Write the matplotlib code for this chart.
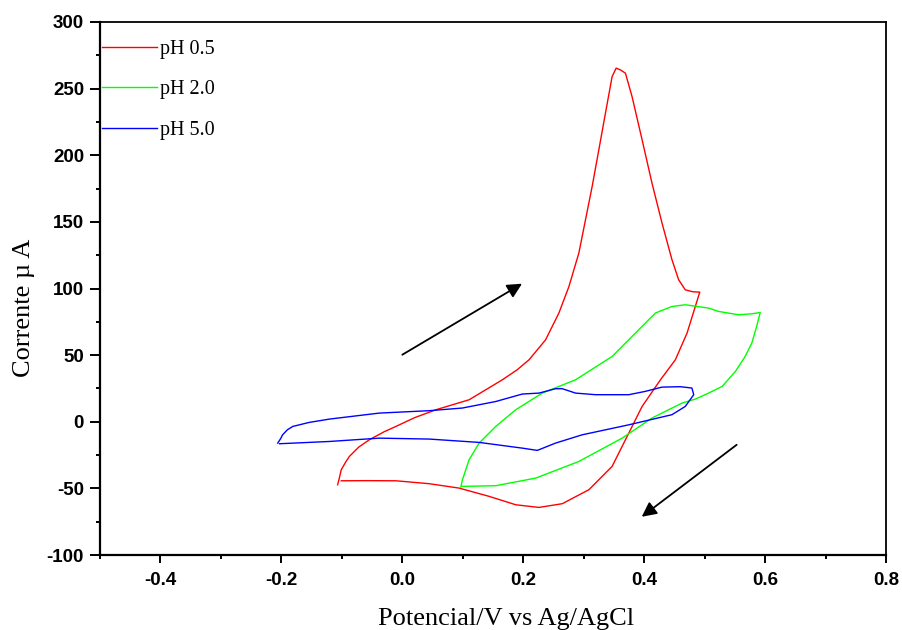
import matplotlib
matplotlib.use("Agg")
import matplotlib.pyplot as plt
from matplotlib.ticker import MultipleLocator

plt.rcParams["axes.unicode_minus"] = False

# Cyclic voltammograms at three pH values (potential in V, current in uA)
ph05_E = [-0.107, -0.104, -0.101, -0.094, -0.0875, -0.072, -0.0545, -0.030, -0.0105, 0.020,
          0.0556, 0.1105, 0.1655, 0.190, 0.2096, 0.237, 0.259, 0.2756, 0.292, 0.303,
          0.314, 0.325, 0.336, 0.347, 0.3537, 0.361, 0.369, 0.380, 0.3966, 0.413,
          0.4296, 0.446, 0.457, 0.468, 0.480, 0.490, 0.492,
          0.4846, 0.471, 0.4516, 0.427, 0.3966, 0.3746, 0.347, 0.3086, 0.2646,
          0.226, 0.1876, 0.1436, 0.094, 0.0446, -0.0105, -0.060, -0.101]
ph05_I = [-47.3, -42.0, -36.0, -30.5, -26.0, -19.0, -13.5, -7.5, -3.5, 3.0,
          9.0, 16.5, 31.5, 39.0, 46.5, 61.5, 81.6, 101.5, 126.6, 151.6,
          176.6, 204.0, 231.6, 259.0, 265.4, 264.0, 261.6, 244.0, 211.6, 179.0,
          149.0, 121.6, 106.6, 99.0, 97.6, 97.3, 97.3,
          86.5, 66.6, 46.5, 31.5, 11.5, -8.5, -33.5, -51.0, -61.5,
          -64.3, -62.3, -56.0, -49.8, -46.5, -44.3, -44.2, -44.3]

ph20_E = [0.0968, 0.0995, 0.1105, 0.127, 0.1546, 0.1876, 0.2315, 0.2866, 0.347, 0.3856,
          0.4186, 0.446, 0.468, 0.5066, 0.523, 0.556, 0.578, 0.592,
          0.586, 0.578, 0.567, 0.551, 0.529, 0.5066, 0.4846, 0.4626, 0.413, 0.3636,
          0.292, 0.2206, 0.1546, 0.0995]
ph20_I = [-49.0, -43.5, -28.5, -16.0, -3.5, 9.0, 21.5, 31.5, 49.0, 66.6,
          81.6, 86.5, 87.8, 85.3, 82.8, 80.3, 81.0, 82.0,
          71.5, 59.0, 49.0, 37.8, 26.5, 21.5, 17.0, 14.0, 2.8, -12.3,
          -29.8, -42.3, -48.0, -48.5]

ph50_E = [-0.206, -0.201, -0.198, -0.190, -0.181, -0.154, -0.1205, -0.038, 0.0446, 0.0995,
          0.1546, 0.1985, 0.226, 0.2536, 0.2646, 0.2866, 0.3196, 0.3746, 0.402, 0.4296,
          0.460, 0.479,
          0.482, 0.468, 0.446, 0.3746, 0.2975, 0.2536, 0.2233, 0.1985, 0.127, 0.0446,
          -0.038, -0.1205, -0.203]
ph50_I = [-16.0, -12.5, -9.8, -6.0, -3.5, -0.5, 2.0, 6.5, 8.3, 10.3,
          15.2, 20.8, 21.5, 24.8, 24.8, 21.5, 20.3, 20.3, 22.8, 26.0,
          26.3, 25.3,
          20.3, 11.5, 5.3, -2.3, -9.8, -16.0, -21.5, -19.8, -15.5, -13.0,
          -12.3, -14.8, -16.5]

series = [
    ("pH 0.5", ph05_E, ph05_I, "#ff0000"),
    ("pH 2.0", ph20_E, ph20_I, "#00ff00"),
    ("pH 5.0", ph50_E, ph50_I, "#0000ff"),
]

# Scan-direction arrows: (start E, start I) -> (end E, end I)
arrow_fwd = ((0.000, 50.3), (0.198, 103.6))
arrow_rev = ((0.553, -17.3), (0.396, -71.3))

fig = plt.figure(figsize=(9.03, 6.30), dpi=100)
ax = fig.add_axes([100 / 903, 75 / 630, 786 / 903, 533 / 630])

for label, E, I, color in series:
    ax.plot(E, I, color=color, lw=1.0, label=label)

for (x0, y0), (x1, y1) in (arrow_fwd, arrow_rev):
    ax.annotate("", xy=(x1, y1), xytext=(x0, y0),
                arrowprops=dict(arrowstyle="-|>", color="black", lw=1.3,
                                mutation_scale=22, shrinkA=0, shrinkB=0))

ax.set_xlim(-0.5, 0.8)
ax.set_ylim(-100, 300)
ax.xaxis.set_major_locator(MultipleLocator(0.2))
ax.xaxis.set_minor_locator(MultipleLocator(0.1))
ax.yaxis.set_major_locator(MultipleLocator(50))
ax.yaxis.set_minor_locator(MultipleLocator(25))
ax.set_xticks([-0.4, -0.2, 0.0, 0.2, 0.4, 0.6, 0.8])
ax.set_xticklabels(["-0.4", "-0.2", "0.0", "0.2", "0.4", "0.6", "0.8"])

for sp in ax.spines.values():
    sp.set_linewidth(1.3)
ax.spines["left"].set_linewidth(1.6)
ax.spines["bottom"].set_linewidth(1.6)

tick_font = dict(family="Liberation Sans", weight="bold", size=13.5)
ax.tick_params(axis="x", which="major", direction="out", length=6, width=1.4, pad=6)
ax.tick_params(axis="x", which="minor", direction="out", length=3, width=1.4)
ax.tick_params(axis="y", which="major", direction="out", length=7.5, width=1.4, pad=4)
ax.tick_params(axis="y", which="minor", direction="out", length=3, width=1.4)
for lab in ax.get_xticklabels() + ax.get_yticklabels():
    lab.set_fontproperties(tick_font)

ax.set_xlabel("Potencial/V vs Ag/AgCl", family="Liberation Serif", size=19)
ax.xaxis.set_label_coords((506.5 - 100) / 786, -0.100)
ax.set_ylabel("Corrente \u00b5 A", family="Liberation Serif", size=19)
ax.yaxis.set_label_coords(-0.083, 0.463)

ax.legend(loc="upper left", bbox_to_anchor=(0.0025, 0.966), frameon=False,
          borderpad=0, borderaxespad=0, handlelength=2.73, handletextpad=0.15,
          labelspacing=1.05, prop=dict(family="Liberation Serif", size=14.5))

fig.savefig("out.png", dpi=100)
